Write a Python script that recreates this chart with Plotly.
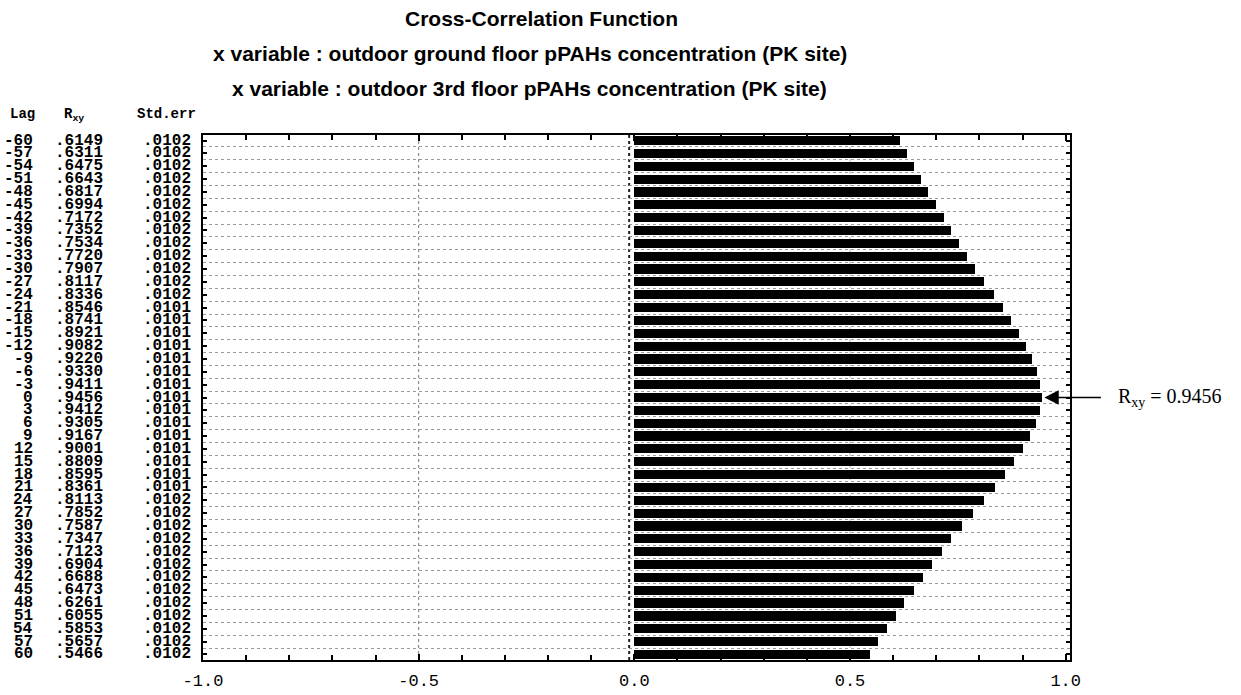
import plotly.graph_objects as go

# Cross-correlation output: lag, coefficient R_xy and its standard error
lags = [-60, -57, -54, -51, -48, -45, -42, -39, -36, -33, -30, -27, -24, -21,
        -18, -15, -12, -9, -6, -3, 0, 3, 6, 9, 12, 15, 18, 21, 24, 27, 30, 33,
        36, 39, 42, 45, 48, 51, 54, 57, 60]
r_xy = [0.6149, 0.6311, 0.6475, 0.6643, 0.6817, 0.6994, 0.7172, 0.7352, 0.7534,
        0.7720, 0.7907, 0.8117, 0.8336, 0.8546, 0.8741, 0.8921, 0.9082, 0.9220,
        0.9330, 0.9411, 0.9456, 0.9412, 0.9305, 0.9167, 0.9001, 0.8809, 0.8595,
        0.8361, 0.8113, 0.7852, 0.7587, 0.7347, 0.7123, 0.6904, 0.6688, 0.6473,
        0.6261, 0.6055, 0.5853, 0.5657, 0.5466]
std_err = [0.0102] * 13 + [0.0101] * 15 + [0.0102] * 13
x_ticks = [-1.0, -0.5, 0.0, 0.5, 1.0]

title_lines = [
    "Cross-Correlation Function",
    "x variable : outdoor ground floor pPAHs concentration (PK site)",
    "x variable : outdoor 3rd floor pPAHs concentration (PK site)",
]

MONO = "Liberation Mono, Courier New, monospace"
SANS = "Liberation Sans, Arial, sans-serif"
SERIF = "Liberation Serif, Times New Roman, serif"

fig = go.Figure()
fig.add_trace(go.Bar(
    x=r_xy, y=lags, orientation="h", width=2.15,
    marker=dict(color="black", line=dict(width=0)),
    hoverinfo="x+y",
))

# Reference lines
shapes = [
    dict(type="line", xref="x", yref="paper", x0=-0.5, x1=-0.5, y0=0, y1=1,
         line=dict(color="#777", width=1, dash="dot"), layer="below"),
    dict(type="line", xref="x", yref="paper", x0=0.5, x1=0.5, y0=0, y1=1,
         line=dict(color="#bbb", width=1, dash="dot"), layer="below"),
    dict(type="line", xref="x", yref="paper", x0=-0.012, x1=-0.012, y0=0, y1=1,
         line=dict(color="#222", width=2, dash="dot"), layer="below"),
]

ann = []
# Title block
for txt, xx, yy in zip(title_lines, [0.391, 0.377, 0.377], [1.222, 1.156, 1.088]):
    ann.append(dict(text="<b>%s</b>" % txt, xref="paper", yref="paper",
                    x=xx, y=yy, showarrow=False, xanchor="center",
                    yanchor="middle", font=dict(family=SANS, size=21, color="black")))

# Column headers
hdr_font = dict(family=MONO, size=14, color="black")
ann.append(dict(text="<b>Lag</b>", xref="paper", yref="paper", x=-0.192, y=1.040,
                xanchor="right", yanchor="middle", showarrow=False, font=hdr_font))
ann.append(dict(text="<b>R<sub>xy</sub></b>", xref="paper", yref="paper", x=-0.163, y=1.038,
                xanchor="left", yanchor="middle", showarrow=False, font=hdr_font))
ann.append(dict(text="<b>Std.err</b>", xref="paper", yref="paper", x=-0.078, y=1.040,
                xanchor="left", yanchor="middle", showarrow=False, font=hdr_font))

# Per-row listing of lag, coefficient and standard error
row_font = dict(family=MONO, size=16, color="black")
for lg, rv, se in zip(lags, r_xy, std_err):
    ann.append(dict(text="<b>%d</b>" % lg, xref="paper", yref="y", x=-0.194, y=lg,
                    xanchor="right", yanchor="middle", showarrow=False, font=row_font))
    ann.append(dict(text="<b>%s</b>" % ("%.4f" % rv)[1:], xref="paper", yref="y", x=-0.143, y=lg,
                    xanchor="center", yanchor="middle", showarrow=False, font=row_font))
    ann.append(dict(text="<b>%s</b>" % ("%.4f" % se)[1:], xref="paper", yref="y", x=-0.0415, y=lg,
                    xanchor="center", yanchor="middle", showarrow=False, font=row_font))

# Peak marker
peak = max(r_xy)
peak_lag = lags[r_xy.index(peak)]
ann.append(dict(x=peak + 0.005, y=peak_lag, xref="x", yref="y", text="", showarrow=True,
                ax=58, ay=0, arrowhead=2, arrowsize=1.8, arrowwidth=1.6,
                arrowcolor="black"))
ann.append(dict(text="R<sub>xy</sub> = %.4f" % peak, xref="paper", yref="y",
                x=1.053, y=peak_lag, xanchor="left", yanchor="middle", showarrow=False,
                font=dict(family=SERIF, size=20, color="black")))

fig.update_layout(
    width=1241, height=695,
    margin=dict(l=203, r=171, t=135, b=35),
    paper_bgcolor="white", plot_bgcolor="white",
    showlegend=False, bargap=0,
    shapes=shapes, annotations=ann,
    xaxis=dict(
        range=[-1.0, 1.01], tickvals=x_ticks,
        ticktext=["%.1f" % v for v in x_ticks],
        tickfont=dict(family=MONO, size=17, color="black"),
        ticks="inside", ticklen=6, tickwidth=1.5, tickcolor="black",
        showline=True, linecolor="black", linewidth=2, mirror="allticks",
        showgrid=False, zeroline=False, ticklabelstandoff=4, automargin=False,
        minor=dict(dtick=0.1, ticks="inside", ticklen=5, tickcolor="black", showgrid=False),
    ),
    yaxis=dict(
        range=[61.3, -61.3], tickvals=lags, showticklabels=False,
        ticks="inside", ticklen=4, tickwidth=1.5, tickcolor="black",
        showline=True, linecolor="black", linewidth=2, mirror="allticks",
        showgrid=False, zeroline=False, automargin=False,
        minor=dict(tickvals=[lg + 1.5 for lg in lags[:-1]], ticks="", showgrid=True,
                   griddash="dot", gridcolor="#999", gridwidth=1),
    ),
)

fig.write_html("out.html")
